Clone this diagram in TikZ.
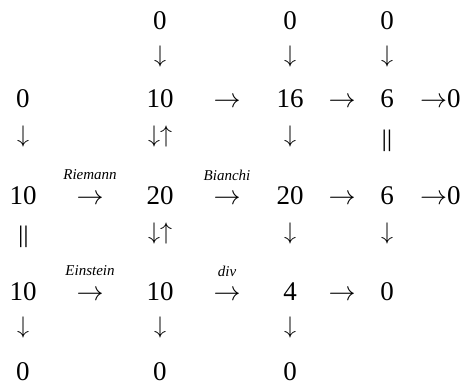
\RequirePackage{fix-cm}
\documentclass[tikz,border=0pt]{standalone}
\usepackage{fontspec}
\setmainfont{Liberation Serif}
\begin{document}
\begin{tikzpicture}[x=1pt,y=-1pt,
  every node/.style={inner sep=0pt,outer sep=0pt},
  num/.style={anchor=base,font=\fontsize{27}{27}\selectfont},
  harr/.style={anchor=base,font=\fontsize{27}{27}\selectfont},
  varr/.style={anchor=center,font=\fontsize{24}{24}\selectfont},
  eqbar/.style={anchor=center,font=\fontsize{27}{27}\selectfont,yscale=0.88,transform shape},
  tail/.style={anchor=base west,font=\fontsize{27}{27}\selectfont},
  lbl/.style={anchor=center,font=\fontsize{15}{15}\selectfont\itshape}]
\useasboundingbox (0,0) rectangle (467,387);
% row 1
\node[num] (a13) at (160,30) {0};
\node[num] (a15) at (290,30) {0};
\node[num] (a17) at (387,30) {0};
% arrows row 1
\node[varr] (d13) at (160,57) {$\downarrow$};
\node[varr] (d15) at (290,57) {$\downarrow$};
\node[varr] (d17) at (387,57) {$\downarrow$};
% row 2
\node[num] (b11) at (23,108) {0};
\node[num] (b13) at (160,108) {10};
\node[harr] (b14) at (227,108) {$\rightarrow$};
\node[num] (b15) at (290,108) {16};
\node[harr] (b16) at (342,108) {$\rightarrow$};
\node[num] (b17) at (387,108) {6};
\node[tail] (b18) at (420,108) {$\rightarrow$0};
% arrows row 2
\node[varr] (e11) at (23,137) {$\downarrow$};
\node[varr] (e13) at (160,137) {$\downarrow\uparrow$};
\node[varr] (e15) at (290,137) {$\downarrow$};
\node[eqbar] (e17) at (387,141) {||};
% labels
\node[lbl] (l12) at (90,175) {Riemann};
\node[lbl] (l14) at (227,175) {Bianchi};
% row 3
\node[num] (c11) at (23,204.5) {10};
\node[harr] (c12) at (90,204.5) {$\rightarrow$};
\node[num] (c13) at (160,204.5) {20};
\node[harr] (c14) at (227,204.5) {$\rightarrow$};
\node[num] (c15) at (290,204.5) {20};
\node[harr] (c16) at (342,204.5) {$\rightarrow$};
\node[num] (c17) at (387,204.5) {6};
\node[tail] (c18) at (420,204.5) {$\rightarrow$0};
% arrows row 3
\node[eqbar] (f11) at (23.5,237) {||};
\node[varr] (f13) at (160,234) {$\downarrow\uparrow$};
\node[varr] (f15) at (290,234) {$\downarrow$};
\node[varr] (f17) at (387,234) {$\downarrow$};
% labels
\node[lbl] (m12) at (90,271) {Einstein};
\node[lbl] (m14) at (227,271) {div};
% row 4
\node[num] (g11) at (23,301) {10};
\node[harr] (g12) at (90,301) {$\rightarrow$};
\node[num] (g13) at (160,301) {10};
\node[harr] (g14) at (227,301) {$\rightarrow$};
\node[num] (g15) at (290,301) {4};
\node[harr] (g16) at (342,301) {$\rightarrow$};
\node[num] (g17) at (387,301) {0};
% arrows row 4
\node[varr] (h11) at (23,328) {$\downarrow$};
\node[varr] (h13) at (160,328) {$\downarrow$};
\node[varr] (h15) at (290,328) {$\downarrow$};
% row 5
\node[num] (k11) at (23,381) {0};
\node[num] (k13) at (160,381) {0};
\node[num] (k15) at (290,381) {0};
\end{tikzpicture}
\end{document}
